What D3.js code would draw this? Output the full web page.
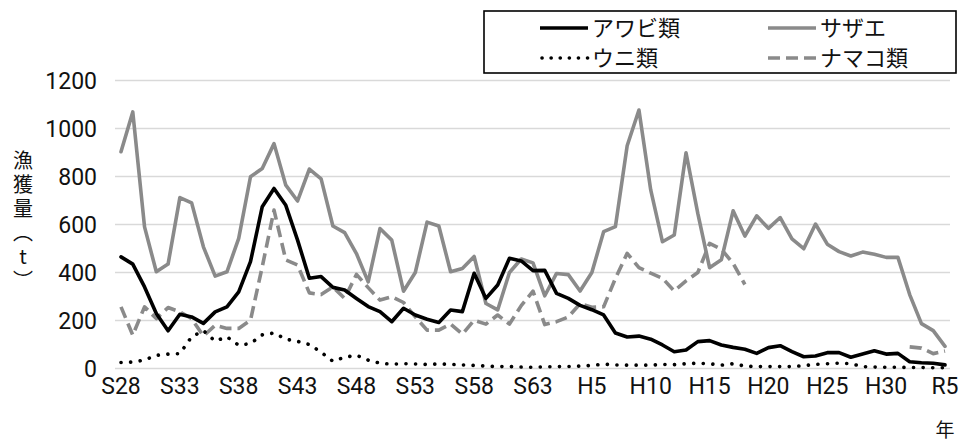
<!DOCTYPE html>
<html><head><meta charset="utf-8">
<script src="https://cdn.jsdelivr.net/npm/d3@7"></script>
<style>
html,body{margin:0;padding:0;background:#fff;}
svg{display:block;}
</style></head>
<body>
<svg id="chart" width="960" height="441"></svg>
<script>
const categories = ["S28","S29","S30","S31","S32","S33","S34","S35","S36","S37","S38","S39","S40","S41","S42","S43","S44","S45","S46","S47","S48","S49","S50","S51","S52","S53","S54","S55","S56","S57","S58","S59","S60","S61","S62","S63",
"H1","H2","H3","H4","H5","H6","H7","H8","H9","H10","H11","H12","H13","H14","H15","H16","H17","H18","H19","H20","H21","H22","H23","H24","H25","H26","H27","H28","H29","H30",
"R1","R2","R3","R4","R5"];
const tickLabels = ["S28","S33","S38","S43","S48","S53","S58","S63","H5","H10","H15","H20","H25","H30","R5"];
const yTicks = [0,200,400,600,800,1000,1200];

const awabi = [465,435,340,229,157,226,215,188,236,257,319,445,674,750,680,535,376,383,338,327,292,258,237,195,251,223,205,192,244,237,397,292,348,459,448,408,409,313,292,263,245,223,148,131,135,122,98,70,77,112,116,98,88,80,63,87,95,70,49,52,66,66,47,60,74,60,63,28,24,22,15];
const sazae = [903,1069,590,403,435,712,690,507,385,403,542,799,833,937,764,698,831,790,594,566,479,361,583,535,322,400,610,594,403,417,467,271,244,400,456,440,303,396,391,323,400,570,591,928,1077,744,528,556,899,646,420,453,657,552,636,584,629,540,499,602,518,487,469,485,476,463,463,308,187,158,92];
const uni = [25,27,35,55,60,62,132,158,114,132,97,104,140,148,122,113,100,68,30,47,55,35,22,18,20,19,17,19,17,15,13,10,8,8,6,5,7,8,8,10,13,18,15,14,14,14,17,16,20,22,20,14,20,10,8,8,8,8,12,17,20,22,20,8,6,5,5,4,4,3,3];
const namako = [257,139,257,208,254,236,208,135,180,167,167,201,424,660,452,431,315,308,340,292,392,337,285,299,275,215,160,160,185,143,201,185,223,185,262,322,183,195,215,270,255,257,375,480,420,397,376,323,365,400,521,497,438,350,null,null,null,null,null,null,null,null,null,null,null,null,null,90,85,62,73];

const seriesNames = ["アワビ類","サザエ","ウニ類","ナマコ類"];
const yTitle = "漁獲量（t）";

const svg = d3.select("#chart");
const x = d3.scalePoint().domain(categories).range([121, 945]);
const y = d3.scaleLinear().domain([0,1200]).range([368.5, 80.5]);

const numFont = "Roboto, 'Liberation Sans', sans-serif";
const jpFont = "'Noto Sans CJK JP', sans-serif";

// gridlines
svg.append("g").selectAll("line").data(yTicks).join("line")
  .attr("x1",115).attr("x2",950)
  .attr("y1",d=>y(d)).attr("y2",d=>y(d))
  .attr("stroke","#d9d9d9").attr("stroke-width",1.4);

// y tick labels
svg.append("g").selectAll("text").data(yTicks).join("text")
  .attr("x",97).attr("y",d=>y(d)).attr("dy","0.36em")
  .attr("text-anchor","end")
  .style("font-family",numFont).style("font-size","23px").attr("fill","#111")
  .text(d=>d);

// x tick labels
svg.append("g").selectAll("text").data(tickLabels).join("text")
  .attr("x",d=>x(d)).attr("y",394)
  .attr("text-anchor","middle")
  .style("font-family",numFont).style("font-size","23px").attr("fill","#111")
  .text(d=>d);

// 年
svg.append("text").attr("x",x("R5")).attr("y",430).attr("dy","0.36em").attr("text-anchor","middle")
  .style("font-family",jpFont).style("font-size","19px").attr("fill","#111").text("年");

// y-axis title (vertical)
svg.append("text").attr("x",23).attr("y",150)
  .style("writing-mode","vertical-rl").style("text-orientation","upright")
  .style("letter-spacing","4px")
  .style("font-family",jpFont).style("font-size","20px").attr("fill","#111")
  .text(yTitle);

const line = d3.line()
  .defined(d=>d.v!=null)
  .x(d=>x(d.c)).y(d=>y(d.v));
const mk = arr => arr.map((v,i)=>({c:categories[i], v}));

const styles = [
  {data:sazae, stroke:"#8a8a8a", dash:null, cap:"round"},
  {data:namako, stroke:"#8a8a8a", dash:"12,6", cap:"butt"},
  {data:uni, stroke:"#000", dash:"0.1,9.5", cap:"round"},
  {data:awabi, stroke:"#000", dash:null, cap:"round"}
];
styles.forEach(s=>{
  svg.append("path").attr("d",line(mk(s.data)))
    .attr("fill","none").attr("stroke",s.stroke).attr("stroke-width",3.6)
    .attr("stroke-linejoin","round").attr("stroke-linecap",s.cap)
    .attr("stroke-dasharray",s.dash);
});

// legend
const lg = svg.append("g");
lg.append("rect").attr("x",484).attr("y",11).attr("width",472).attr("height",62)
  .attr("fill","#fff").attr("stroke","#000").attr("stroke-width",1.6);
const legendItems = [
  {name:seriesNames[0], stroke:"#000", dash:null, cap:"butt", lx:540, ly:28},
  {name:seriesNames[1], stroke:"#8a8a8a", dash:null, cap:"butt", lx:768, ly:28},
  {name:seriesNames[2], stroke:"#000", dash:"0.1,9", cap:"round", lx:540, ly:58},
  {name:seriesNames[3], stroke:"#8a8a8a", dash:"12,6", cap:"butt", lx:768, ly:58}
];
legendItems.forEach(it=>{
  lg.append("line").attr("x1",it.lx + (it.cap==="round"?2:0)).attr("x2",it.lx+48).attr("y1",it.ly).attr("y2",it.ly)
    .attr("stroke",it.stroke).attr("stroke-width",3.6)
    .attr("stroke-linecap",it.cap).attr("stroke-dasharray",it.dash);
  lg.append("text").attr("x",it.lx+52).attr("y",it.ly).attr("dy","0.36em")
    .style("font-family",jpFont).style("font-size","22px").attr("fill","#111")
    .text(it.name);
});
</script>
</body></html>
